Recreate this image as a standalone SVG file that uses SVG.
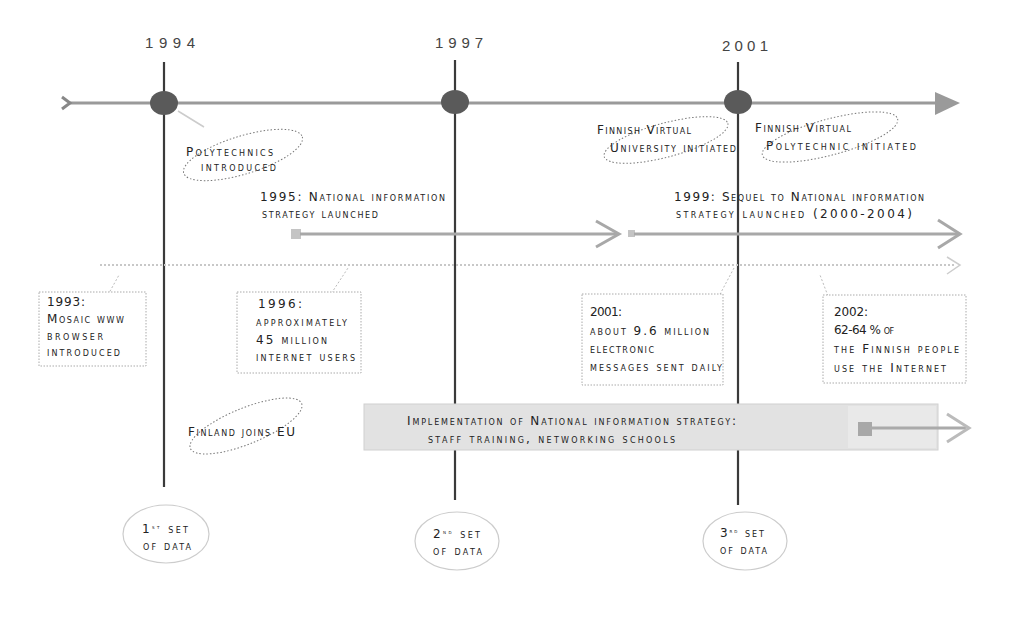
<svg xmlns="http://www.w3.org/2000/svg" width="1019" height="637" viewBox="0 0 1019 637">
<style>
.t{font-family:"DejaVu Sans",Verdana,sans-serif;font-size:12px;font-variant:small-caps;fill:#222}
.yr{font-family:"Liberation Sans",Arial,sans-serif;font-size:15px;fill:#444}
.vl{stroke:#3a3a3a;stroke-width:2.2}
.ax{stroke:#9a9a9a;stroke-width:3;fill:none}
.ah{stroke:#a8a8a8;stroke-width:3;fill:none}
.dot{fill:#5a5a5a}
.ell{fill:none;stroke:#777;stroke-width:1;stroke-dasharray:1.5 2}
.box{fill:#fff;stroke:#aaa;stroke-width:1;stroke-dasharray:1.5 1.5}
.cn{stroke:#bbb;stroke-width:1;stroke-dasharray:2 2;fill:none}
.cir{fill:#fff;stroke:#ccc;stroke-width:1.2}
</style>
<rect width="1019" height="637" fill="#fff"/>
<g id="connectors">
<line class="vl" x1="164" y1="62" x2="164" y2="487"/>
<line class="vl" x1="455" y1="60" x2="455" y2="500"/>
<line class="vl" x1="738" y1="62" x2="738" y2="505"/>
<line class="ax" x1="68" y1="103" x2="945" y2="103"/>
<path d="M62 97 L70 103 L62 109" stroke="#888" stroke-width="3" fill="none"/>
<path d="M935 92 L960 103 L935 115 Z" fill="#9a9a9a"/>
<line x1="178" y1="111" x2="204" y2="127" stroke="#ccc" stroke-width="1.5"/>
<rect x="291" y="229" width="10" height="10" fill="#c4c4c4"/>
<line class="ah" x1="300" y1="234" x2="618" y2="234"/>
<path d="M596 221 L619 234 L596 247" class="ah"/>
<rect x="628" y="230" width="7" height="7" fill="#c4c4c4"/>
<line class="ah" x1="634" y1="234" x2="958" y2="234"/>
<path d="M938 220 L960 234 L938 248" class="ah"/>
<line x1="100" y1="265" x2="955" y2="265" stroke="#c8c8c8" stroke-width="2" stroke-dasharray="2 2"/>
<path d="M947 257 L960 265 L947 274" fill="none" stroke="#ccc" stroke-width="1.5"/>
<line class="cn" x1="104" y1="302" x2="119" y2="275"/>
<line class="cn" x1="327" y1="300" x2="348" y2="268"/>
<line class="cn" x1="718" y1="298" x2="734" y2="268"/>
<line class="cn" x1="828" y1="296" x2="820" y2="275"/>
</g>
<g id="band">
<rect x="364" y="404" width="574" height="46" fill="#e2e2e2" stroke="#d0d0d0"/>
<rect x="848" y="406" width="88" height="42" fill="#e9e9e9"/>
<text class="t" x="407" y="425" textLength="329" lengthAdjust="spacing">Implementation of National information strategy:</text>
<text class="t" x="428" y="443" textLength="247" lengthAdjust="spacing">staff training, networking schools</text>
<rect x="858" y="422" width="14" height="14" fill="#a8a8a8"/>
<line x1="870" y1="428" x2="966" y2="428" stroke="#aaa" stroke-width="3"/>
<path d="M947 414 L969 428 L947 442" fill="none" stroke="#bbb" stroke-width="3"/>
</g>
<g id="y1994">
<text class="yr" x="145" y="48" textLength="50" lengthAdjust="spacing">1994</text>
<ellipse class="dot" cx="164" cy="103" rx="14" ry="12"/>
</g>
<g id="y1997">
<text class="yr" x="435" y="48" textLength="48" lengthAdjust="spacing">1997</text>
<ellipse class="dot" cx="455" cy="102" rx="14" ry="12"/>
</g>
<g id="y2001">
<text class="yr" x="722" y="51" textLength="46" lengthAdjust="spacing">2001</text>
<ellipse class="dot" cx="738" cy="102" rx="14" ry="12"/>
</g>
<g id="polytechnics">
<ellipse class="ell" cx="243" cy="155" rx="62" ry="19" transform="rotate(-17 243 155)"/>
<text class="t" x="186" y="156" textLength="87" lengthAdjust="spacing">Polytechnics</text>
<text class="t" x="201" y="171" textLength="75" lengthAdjust="spacing">introduced</text>
</g>
<g id="strategy1995">
<text class="t" x="260" y="201" textLength="185" lengthAdjust="spacing">1995: National information</text>
<text class="t" x="262" y="218" textLength="116" lengthAdjust="spacing">strategy launched</text>
</g>
<g id="strategy1999">
<text class="t" x="674" y="201" textLength="250" lengthAdjust="spacing">1999: Sequel to National information</text>
<text class="t" x="676" y="218" textLength="236" lengthAdjust="spacing">strategy launched (2000-2004)</text>
</g>
<g id="fvu">
<ellipse class="ell" cx="666" cy="140" rx="64" ry="17" transform="rotate(-15 666 140)"/>
<text class="t" x="597" y="134" textLength="94" lengthAdjust="spacing">Finnish Virtual</text>
<text class="t" x="610" y="152" textLength="126" lengthAdjust="spacing">University initiated</text>
</g>
<g id="fvp">
<ellipse class="ell" cx="830" cy="137" rx="70" ry="18" transform="rotate(-15 830 137)"/>
<text class="t" x="755" y="132" textLength="96" lengthAdjust="spacing">Finnish Virtual</text>
<text class="t" x="766" y="150" textLength="150" lengthAdjust="spacing">Polytechnic initiated</text>
</g>
<g id="box1993">
<rect class="box" x="39" y="292" width="107" height="74"/>
<text class="t" x="47" y="306" textLength="38" lengthAdjust="spacing">1993:</text>
<text class="t" x="47" y="323" textLength="77" lengthAdjust="spacing">Mosaic www</text>
<text class="t" x="47" y="340" textLength="56" lengthAdjust="spacing">browser</text>
<text class="t" x="47" y="356" textLength="73" lengthAdjust="spacing">introduced</text>
</g>
<g id="box1996">
<rect class="box" x="237" y="292" width="124" height="81"/>
<text class="t" x="258" y="308" textLength="44" lengthAdjust="spacing">1996:</text>
<text class="t" x="256" y="326" textLength="91" lengthAdjust="spacing">approximately</text>
<text class="t" x="256" y="344" textLength="71" lengthAdjust="spacing">45 million</text>
<text class="t" x="256" y="361" textLength="99" lengthAdjust="spacing">internet users</text>
</g>
<g id="box2001">
<rect class="box" x="582" y="294" width="141" height="91"/>
<text class="t" x="590" y="316" textLength="32" lengthAdjust="spacing">2001:</text>
<text class="t" x="590" y="335" textLength="119" lengthAdjust="spacing">about 9.6 million</text>
<text class="t" x="590" y="353" textLength="64" lengthAdjust="spacing">electronic</text>
<text class="t" x="590" y="371" textLength="132" lengthAdjust="spacing">messages sent daily</text>
</g>
<g id="box2002">
<rect class="box" x="823" y="295" width="143" height="88"/>
<text class="t" x="834" y="316" textLength="34" lengthAdjust="spacing">2002:</text>
<text class="t" x="834" y="334" textLength="60" lengthAdjust="spacing">62-64 % of</text>
<text class="t" x="834" y="353" textLength="125" lengthAdjust="spacing">the Finnish people</text>
<text class="t" x="834" y="372" textLength="112" lengthAdjust="spacing">use the Internet</text>
</g>
<g id="eu">
<ellipse class="ell" cx="246" cy="426" rx="60" ry="18" transform="rotate(-22 246 426)"/>
<text class="t" x="188" y="436" textLength="107" lengthAdjust="spacing">Finland joins EU</text>
</g>
<g id="data1">
<ellipse class="cir" cx="166" cy="534" rx="43" ry="29"/>
<text class="t" x="142" y="533" textLength="46" lengthAdjust="spacing">1<tspan font-size="6" dy="-4">st</tspan><tspan dy="4"> set</tspan></text>
<text class="t" x="143" y="550" textLength="48" lengthAdjust="spacing">of data</text>
</g>
<g id="data2">
<ellipse class="cir" cx="457" cy="541" rx="42" ry="29"/>
<text class="t" x="433" y="538" textLength="47" lengthAdjust="spacing">2<tspan font-size="6" dy="-4">nd</tspan><tspan dy="4"> set</tspan></text>
<text class="t" x="433" y="555" textLength="49" lengthAdjust="spacing">of data</text>
</g>
<g id="data3">
<ellipse class="cir" cx="745" cy="541" rx="42" ry="29"/>
<text class="t" x="720" y="537" textLength="44" lengthAdjust="spacing">3<tspan font-size="6" dy="-4">rd</tspan><tspan dy="4"> set</tspan></text>
<text class="t" x="720" y="554" textLength="47" lengthAdjust="spacing">of data</text>
</g>
</svg>
